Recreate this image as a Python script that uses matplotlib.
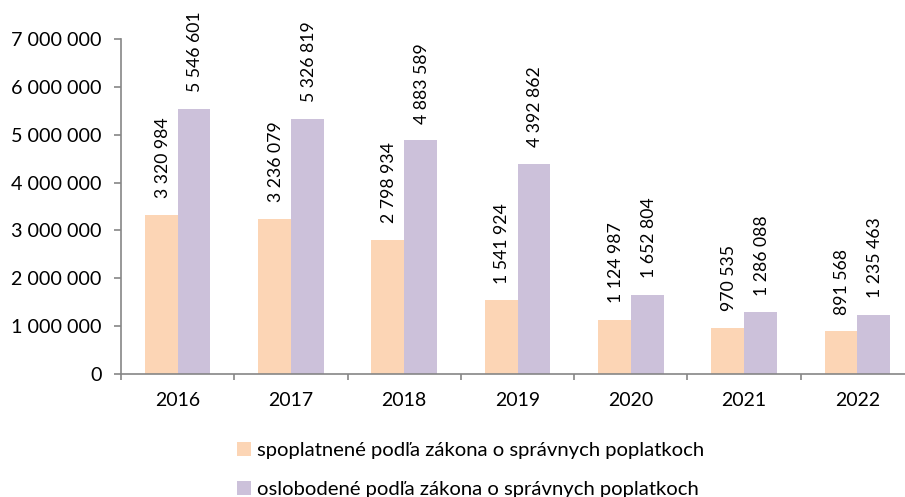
import matplotlib
matplotlib.use("Agg")
import matplotlib.pyplot as plt
import numpy as np
from matplotlib.ticker import FuncFormatter, FixedLocator

years = ["2016", "2017", "2018", "2019", "2020", "2021", "2022"]
spoplatnene = [3320984, 3236079, 2798934, 1541924, 1124987, 970535, 891568]
oslobodene = [5546601, 5326819, 4883589, 4392862, 1652804, 1286088, 1235463]
series_names = ["spoplatnené podľa zákona o správnych poplatkoch",
                "oslobodené podľa zákona o správnych poplatkoch"]
colors = ["#FCD5B5", "#CCC1DA"]

plt.rcParams['font.family'] = ['Lato', 'DejaVu Sans']

W, H = 905, 497
fig = plt.figure(figsize=(W / 100, H / 100), dpi=100)
left, right, top, bottom = 121, 914, 39, 374
ax = fig.add_axes([left / W, 1 - bottom / H, (right - left) / W, (bottom - top) / H])

x = np.arange(len(years))
bw = 0.29
b1 = ax.bar(x - bw / 2, spoplatnene, bw, color=colors[0], label=series_names[0])
b2 = ax.bar(x + bw / 2, oslobodene, bw, color=colors[1], label=series_names[1])

def fmt(v):
    return f"{int(v):,}".replace(",", " ")

for bars, vals in [(b1, spoplatnene), (b2, oslobodene)]:
    for r, v in zip(bars, vals):
        ax.annotate(fmt(v), (r.get_x() + r.get_width() / 2, v), xytext=(1, 12),
                    textcoords="offset points", rotation=90, ha="center", va="bottom",
                    fontsize=12.7, color="#000000")

ax.set_xlim(-0.5, len(years) - 0.5)
ax.set_ylim(0, 7000000)
ax.set_yticks(np.arange(0, 7000001, 1000000))
ax.yaxis.set_major_formatter(FuncFormatter(lambda v, p: fmt(v)))
ax.set_xticks(x)
ax.set_xticklabels(years)
ax.xaxis.set_minor_locator(FixedLocator(np.arange(-0.5, len(years), 1.0)))
ax.tick_params(axis="x", which="major", length=0, pad=13, labelsize=14)
ax.tick_params(axis="x", which="minor", length=4.5, color="#868686", width=1.2)
ax.tick_params(axis="y", length=5, color="#868686", width=1.2, labelsize=14.2, pad=9)

for s in ["top", "right"]:
    ax.spines[s].set_visible(False)
for s in ["left", "bottom"]:
    ax.spines[s].set_color("#868686")
    ax.spines[s].set_linewidth(1.2)

fig.legend(handles=[b1, b2], labels=series_names, loc="upper left",
           bbox_to_anchor=(237 / W, 1 - 442 / H), frameon=False, fontsize=14.6,
           handlelength=0.68, handleheight=0.68, handletextpad=0.3, labelspacing=1.08,
           borderaxespad=0, borderpad=0)

fig.savefig("out.png", dpi=100)
